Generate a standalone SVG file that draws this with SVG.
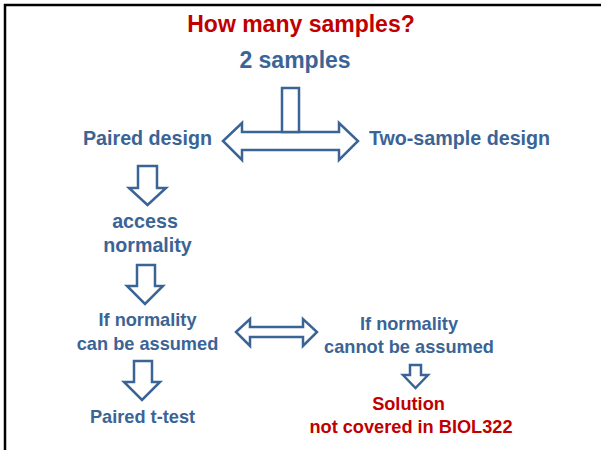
<svg xmlns="http://www.w3.org/2000/svg" width="601" height="450" viewBox="0 0 601 450">
  <style>
    .t { font-family: "Liberation Sans", Arial, sans-serif; font-weight: bold; text-anchor: middle; }
    .blue { fill: #3b6496; }
    .red { fill: #c00000; }
    .arrow { fill: #ffffff; stroke: #3b6496; stroke-width: 2.5; stroke-linejoin: miter; }
  </style>
  <rect width="601" height="450" fill="#ffffff"/>
  <!-- slide frame: top and left edges -->
  <path d="M5 450 V5 H601" fill="none" stroke="#000000" stroke-width="2.5"/>

  <g id="title">
    <text class="t red" x="301" y="32" font-size="23">How many samples?</text>
  </g>
  <g id="two-samples">
    <text class="t blue" x="295" y="68" font-size="23">2 samples</text>
  </g>
  <g id="paired-design">
    <text class="t blue" x="147.5" y="145" font-size="19.7">Paired design</text>
  </g>
  <g id="two-sample-design">
    <text class="t blue" x="459.5" y="145" font-size="19.7">Two-sample design</text>
  </g>
  <g id="access-normality">
    <text class="t blue" x="145" y="228" font-size="19.7">access</text>
    <text class="t blue" x="147.5" y="252" font-size="19.7">normality</text>
  </g>
  <g id="normal-yes">
    <text class="t blue" x="147.5" y="326" font-size="18.2">If normality</text>
    <text class="t blue" x="147.5" y="350" font-size="18.2">can be assumed</text>
  </g>
  <g id="normal-no">
    <text class="t blue" x="409" y="330" font-size="18.2">If normality</text>
    <text class="t blue" x="409" y="353" font-size="18.2">cannot be assumed</text>
  </g>
  <g id="paired-t-test">
    <text class="t blue" x="142.5" y="423" font-size="18.2">Paired t-test</text>
  </g>
  <g id="solution">
    <text class="t red" x="408.5" y="410" font-size="18.2">Solution</text>
    <text class="t red" x="411" y="433" font-size="18.2">not covered in BIOL322</text>
  </g>

  <g id="connectors">
    <!-- split: left/right double arrow with a stem sitting on top -->
    <path class="arrow" d="M242 132 H339 V123 L358 141 L339 160 V150 H242 V160 L223 141 L242 123 Z"/>
    <rect class="arrow" x="282" y="88" width="17" height="44"/>
    <!-- down arrows on the paired branch -->
    <path class="arrow" d="M138 166 H157 V188 H166 L147.5 205 L129 188 H138 Z"/>
    <path class="arrow" d="M137 265 H155 V286 H163 L145 304 L127 286 H137 Z"/>
    <path class="arrow" d="M134 361 H152 V382 H160 L142 400 L124 382 H134 Z"/>
    <!-- assumed / not assumed double arrow -->
    <path class="arrow" d="M236 332 L250 319 V327 H303 V319 L317 332 L303 346 V337 H250 V346 Z"/>
    <!-- small down arrow to the solution -->
    <path class="arrow" d="M410 365 H421 V375 H428 L415.5 388 L403 375 H410 Z"/>
  </g>
</svg>
